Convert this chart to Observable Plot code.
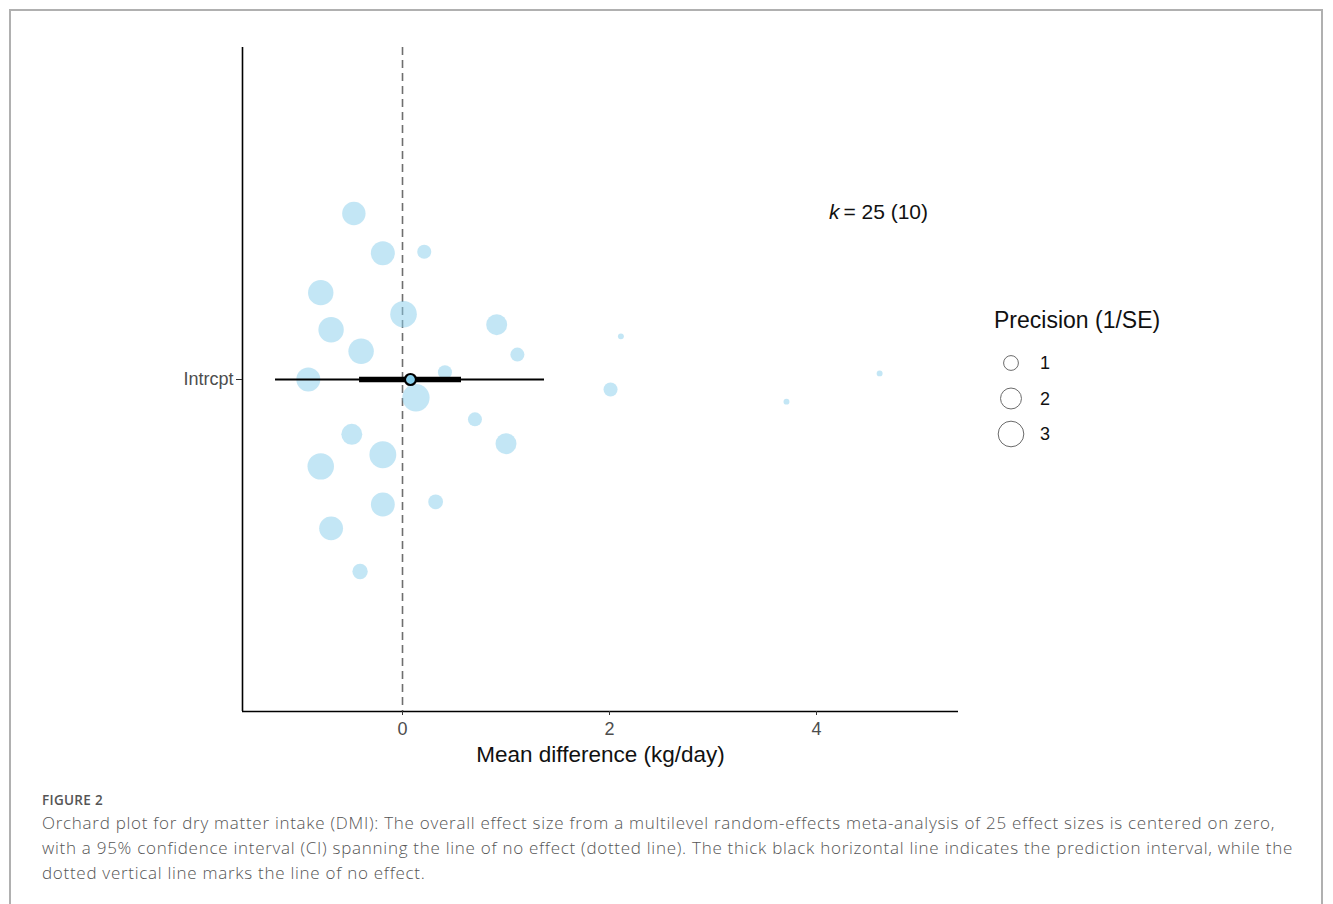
<!DOCTYPE html>
<html>
<head>
<meta charset="utf-8">
<script src="https://cdn.jsdelivr.net/npm/d3@7"></script>
<script src="https://cdn.jsdelivr.net/npm/@observablehq/plot@0.6"></script>
<style>
  html, body { margin: 0; padding: 0; background: #fff; }
  body { width: 1333px; height: 904px; position: relative; overflow: hidden; }
  #frame { position: absolute; left: 9px; top: 9px; width: 1314px; height: 920px;
           border: 2px solid #b0b0b0; box-sizing: border-box; }
  #chart { position: absolute; left: 0; top: 0; }
  #caption { position: absolute; left: 42px; top: 790px; font-family: "Open Sans", sans-serif;
             color: #555; white-space: nowrap; }
  #caption .fig { font-size: 13.5px; font-weight: 600; letter-spacing: 0.3px; line-height: 20px; }
  #caption .txt { font-size: 17px; font-weight: 300; letter-spacing: 0.72px; line-height: 25px; }
</style>
</head>
<body>
<div id="frame"></div>
<div id="chart"></div>
<div id="caption">
  <div class="fig">FIGURE 2</div>
  <div class="txt">Orchard plot for dry matter intake (DMI): The overall effect size from a multilevel random-effects meta-analysis of 25 effect sizes is centered on zero,<br>with a 95% confidence interval (CI) spanning the line of no effect (dotted line). The thick black horizontal line indicates the prediction interval, while the<br>dotted vertical line marks the line of no effect.</div>
</div>
<script>
// ---- Data ----
const effectSizes = [-0.47, -0.19, 0.21, -0.79, 0.01, 0.91, -0.69, -0.40, 1.11, 2.11, -0.91, 0.41, 2.01, 0.13, 0.70, -0.49, 1.00, -0.19, -0.79, 0.32, -0.19, -0.69, -0.41, 3.71, 4.61];
const precisions  = [2.5, 2.63, 0.9, 2.95, 3.23, 2.0, 2.95, 2.95, 0.9, 0.16, 2.63, 0.9, 0.9, 3.4, 0.9, 2.0, 2.0, 3.3, 3.2, 1.0, 2.6, 2.6, 1.08, 0.16, 0.16];
const jitterY     = [0.300, 0.228, 0.231, 0.157, 0.118, 0.099, 0.090, 0.051, 0.045, 0.078, 0.000, 0.013, -0.018, -0.033, -0.072, -0.099, -0.116, -0.136, -0.157, -0.221, -0.226, -0.269, -0.347, -0.040, 0.011];
const estimate = [0.077];
const ciLow = [-0.415], ciHigh = [0.570];
const piLow = [-1.227], piHigh = [1.372];
const xTicks = [0, 2, 4];
const yCategory = ["Intrcpt"];
const legendValues = [1, 2, 3];
const legendTitle = "Precision (1/SE)";
const kLabel = "= 25 (10)";

const points = effectSizes.map((x, i) => ({x, y: jitterY[i], p: precisions[i]}));
const overall = estimate.map((e, i) => ({est: e, ciL: ciLow[i], ciH: ciHigh[i], piL: piLow[i], piH: piHigh[i]}));

const W = 1333, H = 780;
const font = "'Liberation Sans', Arial, sans-serif";

function legendMark(index, scales, values, dimensions) {
  const rs = scales.r || d3.scaleSqrt([0, 3.5], [0, 7.4 * Math.sqrt(3.5)]);
  const g = d3.create("svg:g").attr("font-family", font).attr("text-anchor", "start");
  g.append("text").attr("x", 994).attr("y", 320).attr("dy", "0.35em")
    .attr("font-size", 23).attr("fill", "#111").text(legendTitle);
  legendValues.forEach((v, i) => {
    const cy = 363 + i * 35.5;
    g.append("circle").attr("cx", 1011).attr("cy", cy).attr("r", rs(v))
      .attr("fill", "none").attr("stroke", "#6b6b6b").attr("stroke-width", 1);
    g.append("text").attr("x", 1040).attr("y", cy).attr("dy", "0.35em")
      .attr("font-size", 18).attr("fill", "#111").text(v);
  });
  return g.node();
}

const chart = Plot.plot({
  width: W, height: H,
  marginLeft: 242, marginRight: W - 958, marginTop: 47, marginBottom: H - 711,
  style: {fontFamily: font, fontSize: "16px", background: "transparent", overflow: "visible"},
  x: {domain: [-1.546, 5.372]},
  y: {domain: [-0.6, 0.6]},
  r: {type: "sqrt", domain: [0, 3.5], range: [0, 7.4 * Math.sqrt(3.5)]},
  marks: [
    Plot.ruleX([0], {stroke: "#6e6e6e", strokeWidth: 1.6, strokeDasharray: "8,5"}),
    Plot.dot(points, {x: "x", y: "y", r: "p", fill: "#87CEEB", fillOpacity: 0.5, stroke: "none"}),
    Plot.ruleY(overall, {y: 0, x1: "piL", x2: "piH", stroke: "black", strokeWidth: 2}),
    Plot.ruleY(overall, {y: 0, x1: "ciL", x2: "ciH", stroke: "black", strokeWidth: 5.5}),
    Plot.dot(overall, {x: "est", y: 0, r: 5.5, fill: "#87CEEB", stroke: "black", strokeWidth: 2.2}),
    Plot.ruleX([-1.546], {y1: -0.6, y2: 0.6, stroke: "black", strokeWidth: 1.6}),
    Plot.ruleY([-0.6], {x1: -1.546, x2: 5.372, stroke: "black", strokeWidth: 1.6}),
    Plot.axisX(xTicks, {tickSize: 4, stroke: "#333", tickFormat: () => "", label: null}),
    Plot.axisY([0], {tickSize: 6, stroke: "#333", tickFormat: () => "", label: null}),
    Plot.text(xTicks, {x: d => d, frameAnchor: "bottom", dy: 18, fontSize: 18, fill: "#4d4d4d", lineAnchor: "middle"}),
    Plot.text(yCategory, {y: () => 0, frameAnchor: "left", dx: -9, textAnchor: "end", fontSize: 18, fill: "#4d4d4d"}),
    Plot.text(["Mean difference (kg/day)"], {x: 1.913, frameAnchor: "bottom", dy: 43, fontSize: 22.5, fill: "#111", lineAnchor: "middle"}),
    Plot.text(["k"], {x: 4.26, y: 0.302, dx: -4, textAnchor: "end", fontSize: 21, fontStyle: "italic", fill: "#111"}),
    Plot.text([kLabel], {x: 4.26, y: 0.302, textAnchor: "start", fontSize: 21, fill: "#111"}),
    legendMark
  ]
});
document.getElementById("chart").appendChild(chart);
</script>
</body>
</html>
